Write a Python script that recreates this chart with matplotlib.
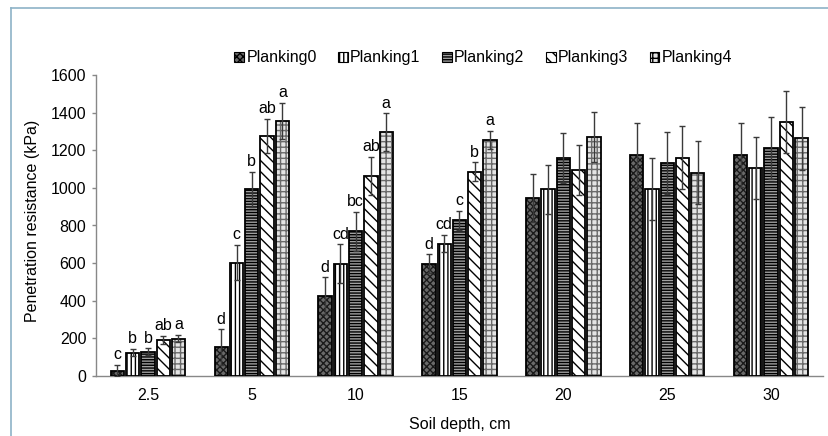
import matplotlib
matplotlib.use("Agg")
import matplotlib.pyplot as plt
import numpy as np
from matplotlib.patches import Patch
from matplotlib.lines import Line2D

plt.rcParams['font.family'] = ['Liberation Sans', 'DejaVu Sans']
plt.rcParams['hatch.linewidth'] = 1.0

depths = ['2.5', '5', '10', '15', '20', '25', '30']
series = ['Planking0', 'Planking1', 'Planking2', 'Planking3', 'Planking4']

planking0 = [28, 154, 427, 597, 945, 1175, 1175]
planking1 = [124, 602, 597, 703, 992, 992, 1108]
planking2 = [130, 992, 769, 827, 1161, 1131, 1210]
planking3 = [192, 1276, 1065, 1086, 1095, 1161, 1349]
planking4 = [199, 1357, 1297, 1255, 1269, 1081, 1263]

err0 = [30, 94, 97, 50, 129, 168, 168]
err1 = [20, 94, 103, 46, 131, 165, 165]
err2 = [17, 93, 105, 50, 133, 166, 165]
err3 = [21, 92, 101, 50, 131, 166, 164]
err4 = [18, 96, 99, 46, 133, 167, 167]

letters0 = ['c', 'd', 'd', 'd', '', '', '']
letters1 = ['b', 'c', 'cd', 'cd', '', '', '']
letters2 = ['b', 'b', 'bc', 'c', '', '', '']
letters3 = ['ab', 'ab', 'ab', 'b', '', '', '']
letters4 = ['a', 'a', 'a', 'a', '', '', '']

values = [planking0, planking1, planking2, planking3, planking4]
errors = [err0, err1, err2, err3, err4]
letters = [letters0, letters1, letters2, letters3, letters4]

styles = [
    dict(face='#6a6a6a', hatch='xxxxx', hcolor='#1a1a1a'),
    dict(face='white', hatch='||||', hcolor='black'),
    dict(face='#a0a0a0', hatch='------', hcolor='black'),
    dict(face='white', hatch='\\\\\\', hcolor='black'),
    dict(face='#e4e4e4', hatch='+++', hcolor='#6a6a6a'),
]

FS = 11
FS_T = 11.5

fig = plt.figure(figsize=(8.29, 4.36), dpi=100)
ax = fig.add_axes([96/829, 1-376/436, 727/829, 301/436])

x = np.arange(len(depths))
step = 0.147
width = 0.128

for i in range(5):
    pos = x + (i - 2) * step
    st = styles[i]
    ax.bar(pos, values[i], width, color=st['face'], hatch=st['hatch'],
           edgecolor=st['hcolor'], linewidth=0, zorder=2)
    ax.bar(pos, values[i], width, fill=False, edgecolor='black',
           linewidth=1.3, zorder=3)
    ax.errorbar(pos, values[i], yerr=errors[i], fmt='none', ecolor='#3a3a3a',
                elinewidth=1.0, capsize=2.5, capthick=1.0, zorder=4)
    for j in range(len(depths)):
        if letters[i][j]:
            ax.annotate(letters[i][j], (pos[j], values[i][j] + errors[i][j]),
                        xytext=(0, 2), textcoords='offset points',
                        ha='center', va='bottom', fontsize=FS_T, zorder=5)

ax.set_xlim(-0.5, 6.5)
ax.set_ylim(0, 1600)
ax.set_yticks(np.arange(0, 1601, 200))
ax.set_xticks(x)
ax.set_xticklabels(depths)
ax.tick_params(axis='both', labelsize=FS_T)
ax.tick_params(axis='x', length=0, pad=8.5)
ax.tick_params(axis='y', length=3, width=1.0, color='#888888', pad=4)
for s in ['top', 'right']:
    ax.spines[s].set_visible(False)
for s in ['left', 'bottom']:
    ax.spines[s].set_color('#888888')
    ax.spines[s].set_linewidth(1.0)

ax.set_ylabel('Penetration resistance (kPa)', fontsize=FS_T)
ax.yaxis.set_label_coords(-0.077, 0.515)
ax.set_xlabel('Soil depth, cm', fontsize=FS_T)
ax.xaxis.set_label_coords(0.5, -0.135)

handles = [Patch(facecolor=st['face'], hatch=st['hatch'], edgecolor='black',
                 linewidth=0.8) for st in styles]
fig.legend(handles, series, ncol=5, loc='center', bbox_to_anchor=(0.583, 0.867),
           frameon=False, fontsize=FS_T, handlelength=0.6, handleheight=0.6,
           handletextpad=0.15, columnspacing=1.35)

border = '#8db3c7'
fig.add_artist(Line2D([11/829, 11/829], [0, 1-8/436], transform=fig.transFigure,
                      color=border, linewidth=1.2))
fig.add_artist(Line2D([11/829, 1], [1-8/436, 1-8/436], transform=fig.transFigure,
                      color=border, linewidth=1.2))

fig.savefig('out.png', dpi=100)
